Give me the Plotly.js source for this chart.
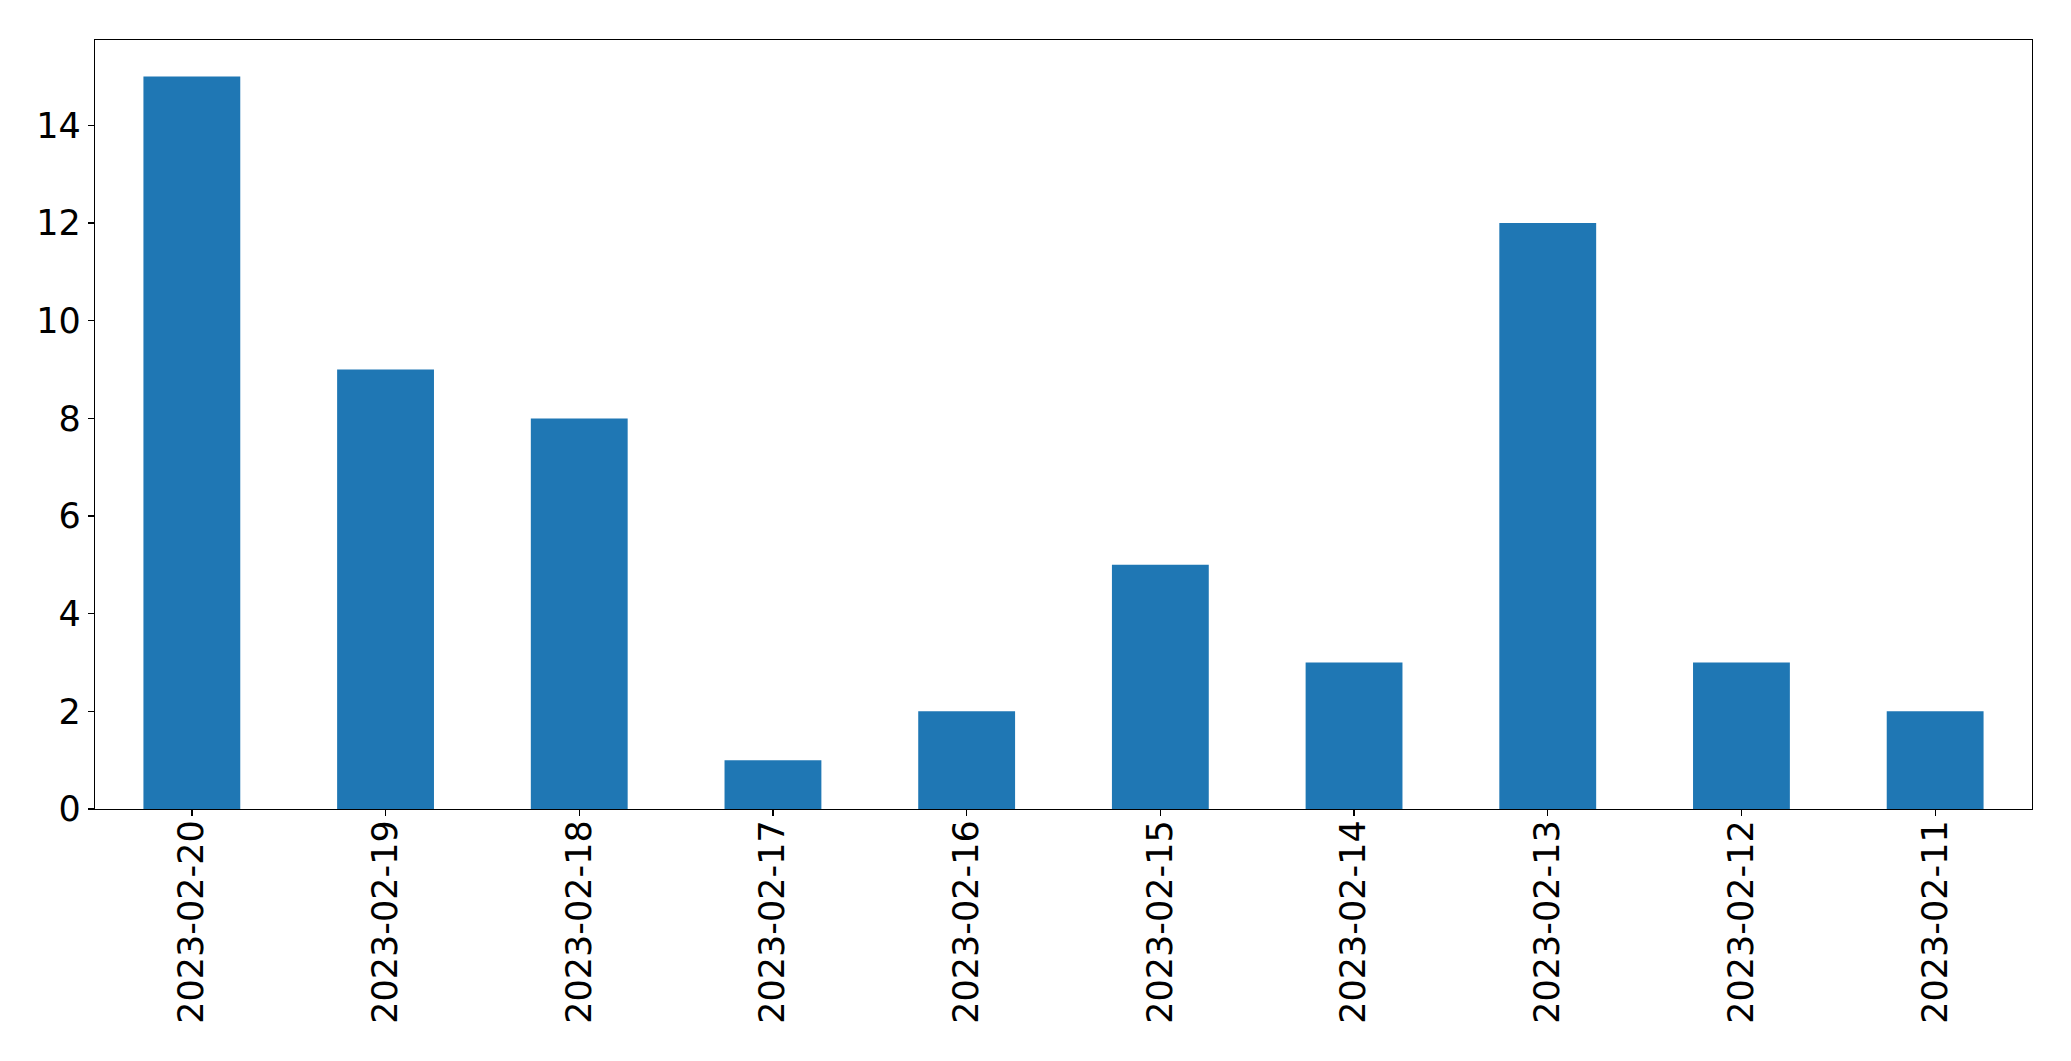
<!DOCTYPE html>
<html>
<head>
<meta charset="utf-8">
<script src="https://cdn.plot.ly/plotly-3.0.1.min.js"></script>
<style>html,body{margin:0;padding:0;background:#fff;}#chart{width:2071px;height:1061px;}</style>
</head>
<body>
<div id="chart"></div>
<script>
const dates = ["2023-02-20","2023-02-19","2023-02-18","2023-02-17","2023-02-16","2023-02-15","2023-02-14","2023-02-13","2023-02-12","2023-02-11"];
const counts = [15, 9, 8, 1, 2, 5, 3, 12, 3, 2];
const yTicks = [0, 2, 4, 6, 8, 10, 12, 14];

const trace = {
  type: "bar",
  x: dates,
  y: counts,
  width: 0.5,
  marker: {color: "#1f77b4"},
  hoverinfo: "x+y"
};

const layout = {
  width: 2071,
  height: 1061,
  margin: {l: 94.5, r: 39, t: 39.5, b: 252, pad: 0},
  paper_bgcolor: "#fff",
  plot_bgcolor: "#fff",
  showlegend: false,
  font: {family: "DejaVu Sans", size: 35, color: "#000"},
  xaxis: {
    type: "category",
    range: [-0.5, 9.5],
    tickangle: -90,
    ticks: "outside",
    ticklen: 6,
    tickwidth: 1.3,
    tickcolor: "#000",
    ticklabelstandoff: -10,
    showline: true,
    linecolor: "#000",
    linewidth: 1.3,
    mirror: true,
    showgrid: false,
    zeroline: false,
    tickfont: {family: "DejaVu Sans", size: 35, color: "#000"}
  },
  yaxis: {
    range: [0, 15.75],
    tickvals: yTicks,
    ticktext: yTicks.map(String),
    ticks: "outside",
    ticklen: 6,
    tickwidth: 1.3,
    tickcolor: "#000",
    showline: true,
    linecolor: "#000",
    linewidth: 1.3,
    mirror: true,
    showgrid: false,
    zeroline: false,
    tickfont: {family: "DejaVu Sans", size: 35, color: "#000"}
  }
};

Plotly.newPlot("chart", [trace], layout, {displayModeBar: false, staticPlot: true});
</script>
</body>
</html>
